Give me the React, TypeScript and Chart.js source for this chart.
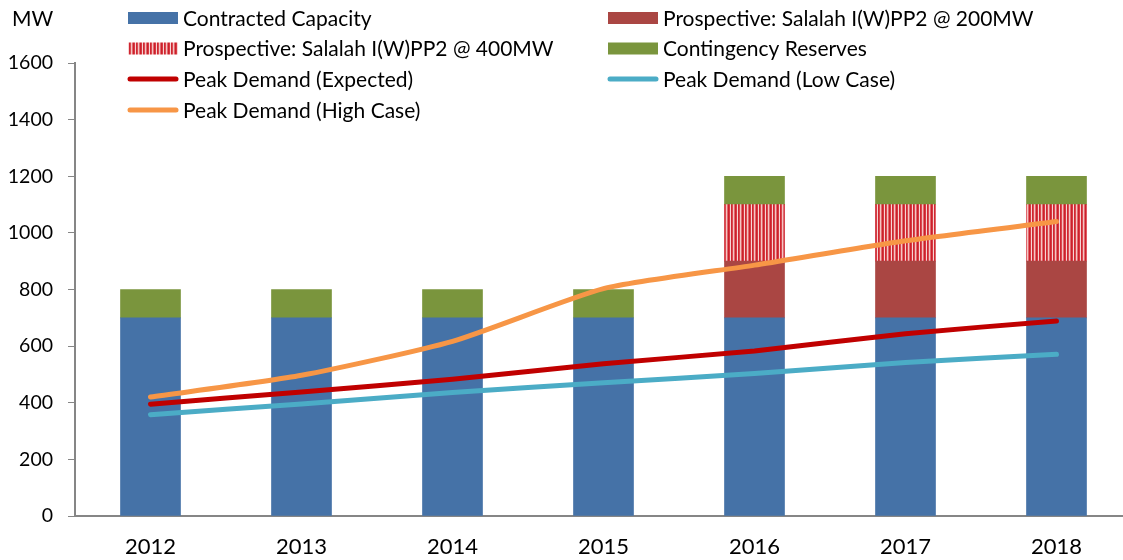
import React, { useEffect, useRef } from "react";
import { Chart, registerables } from "chart.js";

Chart.register(...registerables);

// ---------- data ----------
const years = ["2012", "2013", "2014", "2015", "2016", "2017", "2018"];
const contractedCapacity = [700, 700, 700, 700, 700, 700, 700];
const prospective200 = [null, null, null, null, 200, 200, 200];
const prospective400 = [null, null, null, null, 200, 200, 200];
const contingencyReserves = [100, 100, 100, 100, 100, 100, 100];
const peakExpected = [395, 438, 483, 538, 583, 644, 689];
const peakLow = [358, 396, 436, 471, 503, 542, 571];
const peakHigh = [420, 497, 617, 803, 886, 972, 1040];
const yMin = 0;
const yMax = 1600;
const yStep = 200;
const unitLabel = "MW";

const seriesLabels = [
  "Contracted Capacity",
  "Prospective: Salalah I(W)PP2 @ 200MW",
  "Prospective: Salalah I(W)PP2 @ 400MW",
  "Contingency Reserves",
  "Peak Demand (Expected)",
  "Peak Demand (Low Case)",
  "Peak Demand (High Case)",
];

// ---------- style ----------
const FONT = "Lato, 'Open Sans', sans-serif";
const FS = 21;
const FS_X = 22;
const FS_Y = 19.5;
const C_BLUE = "#4572A7";
const C_RED = "#AA4643";
const C_GREEN = "#7A953D";
const C_EXP = "#C00000";
const C_LOW = "#4BACC6";
const C_HIGH = "#F79646";
const AXIS = "#868686";

function makeStripePattern(ctx: CanvasRenderingContext2D) {
  const c = document.createElement("canvas");
  c.width = 7;
  c.height = 4;
  const g = c.getContext("2d")!;
  const cols = ["#cc1f2b", "#d63a42", "#f7d4d4", "#cf2631", "#d94a50", "#f4c4c4", "#e06a6e"];
  cols.forEach((col, i) => {
    g.fillStyle = col;
    g.fillRect(i, 0, 1, 4);
  });
  return ctx.createPattern(c, "repeat")!;
}

const legendPlugin = {
  id: "customLegend",
  afterDraw(chart: any) {
    const ctx: CanvasRenderingContext2D = chart.ctx;
    ctx.save();
    ctx.font = `${FS}px ${FONT}`;
    ctx.textBaseline = "middle";
    ctx.textAlign = "left";
    ctx.fillStyle = "#000";
    ctx.fillText(unitLabel, 12, 19);
    const colX = [128, 608];
    const rowY = [18, 48.5, 79, 110];
    const swW = 50;
    chart.data.datasets.forEach((ds: any, i: number) => {
      const col = i % 2;
      const row = Math.floor(i / 2);
      const x = colX[col];
      const y = rowY[row];
      if (ds.type === "line") {
        ctx.strokeStyle = ds.borderColor;
        ctx.lineWidth = 5;
        ctx.lineCap = "round";
        ctx.beginPath();
        ctx.moveTo(x + 2, y);
        ctx.lineTo(x + swW - 2, y);
        ctx.stroke();
      } else {
        ctx.fillStyle = ds.backgroundColor;
        ctx.fillRect(x, y - 6, swW, 12);
      }
      ctx.fillStyle = "#000";
      ctx.fillText(ds.label, x + swW + 5, y + 1);
    });
    ctx.restore();
  },
};

export default function App() {
  const ref = useRef<HTMLCanvasElement | null>(null);

  useEffect(() => {
    const canvas = ref.current!;
    const ctx = canvas.getContext("2d")!;
    const stripes = makeStripePattern(ctx);

    const lineCommon = {
      type: "line" as const,
      borderWidth: 5,
      pointRadius: 0,
      pointHoverRadius: 0,
      tension: 0.2,
      borderCapStyle: "round" as const,
      borderJoinStyle: "round" as const,
      fill: false,
      order: 1,
    };
    const barCommon = {
      type: "bar" as const,
      barThickness: 60,
      borderWidth: 0,
      order: 2,
    };

    const chart = new Chart(ctx, {
      data: {
        labels: years,
        datasets: [
          { ...barCommon, label: seriesLabels[0], data: contractedCapacity, backgroundColor: C_BLUE },
          { ...barCommon, label: seriesLabels[1], data: prospective200, backgroundColor: C_RED },
          { ...barCommon, label: seriesLabels[2], data: prospective400, backgroundColor: stripes as any },
          { ...barCommon, label: seriesLabels[3], data: contingencyReserves, backgroundColor: C_GREEN },
          { ...lineCommon, label: seriesLabels[4], data: peakExpected, borderColor: C_EXP, backgroundColor: C_EXP, stack: "l1" },
          { ...lineCommon, label: seriesLabels[5], data: peakLow, borderColor: C_LOW, backgroundColor: C_LOW, stack: "l2" },
          { ...lineCommon, label: seriesLabels[6], data: peakHigh, borderColor: C_HIGH, backgroundColor: C_HIGH, stack: "l3" },
        ] as any,
      },
      options: {
        responsive: false,
        animation: false,
        devicePixelRatio: 1,
        layout: { padding: { top: 63, right: 18, left: 0, bottom: 0 } },
        plugins: {
          legend: { display: false },
          tooltip: { enabled: false },
        },
        scales: {
          x: {
            stacked: true,
            grid: { display: true, drawOnChartArea: false, drawTicks: false },
            border: { display: true, color: AXIS, width: 2 },
            ticks: { color: "#000", font: { family: FONT, size: FS_X }, padding: 18, maxRotation: 0 },
            afterFit: (s: any) => {
              s.height = 44;
            },
          },
          y: {
            stacked: true,
            min: yMin,
            max: yMax,
            ticks: {
              stepSize: yStep,
              color: "#000",
              font: { family: FONT, size: FS_Y },
              padding: 15,
              callback: (v: any) => String(v),
            },
            grid: { display: true, drawOnChartArea: false, drawTicks: true, tickLength: 7, color: AXIS, lineWidth: 1 },
            border: { display: true, color: AXIS, width: 2 },
            afterFit: (s: any) => {
              s.width = 75;
            },
          },
        },
      },
      plugins: [legendPlugin],
    });
    return () => chart.destroy();
  }, []);

  return (
    <div
      style={{
        position: "fixed",
        left: 0,
        top: 0,
        width: 1123,
        height: 560,
        overflow: "hidden",
        background: "#fff",
      }}
    >
      <canvas ref={ref} width={1150} height={560} style={{ display: "block" }} />
    </div>
  );
}
